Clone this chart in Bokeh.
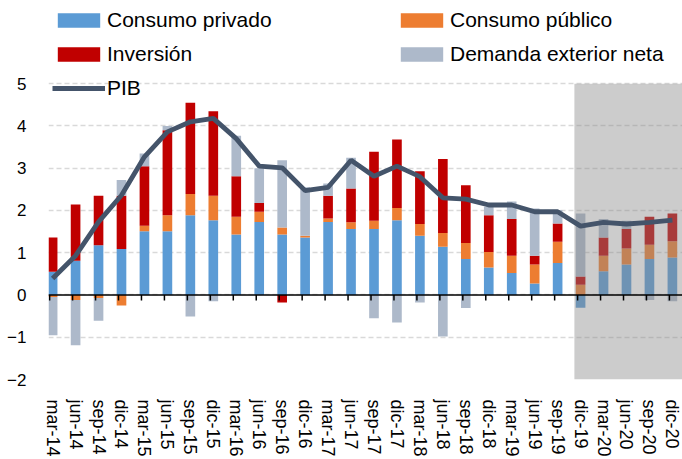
import numpy as np
from bokeh.plotting import figure
from bokeh.models import (Range1d, FixedTicker, Span, Legend, LegendItem)
from bokeh.embed import file_html
from bokeh.resources import INLINE

labels = ["mar-14", "jun-14", "sep-14", "dic-14", "mar-15", "jun-15", "sep-15", "dic-15",
          "mar-16", "jun-16", "sep-16", "dic-16", "mar-17", "jun-17", "sep-17", "dic-17",
          "mar-18", "jun-18", "sep-18", "dic-18", "mar-19", "jun-19", "sep-19", "dic-19",
          "mar-20", "jun-20", "sep-20", "dic-20"]

consumo_privado = [0.55, 0.81, 1.18, 1.09, 1.51, 1.51, 1.89, 1.77, 1.43, 1.73, 1.43, 1.36,
                   1.73, 1.56, 1.56, 1.77, 1.40, 1.14, 0.85, 0.65, 0.52, 0.27, 0.76, -0.30,
                   0.56, 0.72, 0.85, 0.89]
consumo_publico = [-0.05, -0.12, -0.07, -0.25, 0.13, 0.38, 0.50, 0.58, 0.42, 0.24, 0.17, 0.04,
                   0.08, 0.16, 0.20, 0.29, 0.28, 0.33, 0.38, 0.37, 0.41, 0.45, 0.50, 0.24,
                   0.37, 0.38, 0.34, 0.38]
inversion = [0.81, 1.33, 1.17, 1.26, 1.41, 2.01, 2.16, 2.00, 0.96, 0.21, -0.18, 0.00,
             0.54, 0.80, 1.63, 1.62, 1.25, 1.75, 1.37, 0.87, 0.87, 0.21, 0.43, 0.20,
             0.43, 0.46, 0.66, 0.66]
demanda_exterior = [-0.90, -1.07, -0.54, 0.37, 0.30, 0.10, -0.51, -0.15, 0.96, 0.82, 1.59, 1.15,
                    0.29, 0.73, -0.55, -0.65, -0.18, -0.98, -0.31, 0.20, 0.41, 1.12, 0.32, 1.49,
                    0.44, 0.20, -0.12, -0.15]
pib = [0.39, 0.93, 1.73, 2.36, 3.27, 3.86, 4.10, 4.18, 3.70, 3.05, 3.01, 2.47,
       2.55, 3.19, 2.81, 3.05, 2.80, 2.30, 2.27, 2.13, 2.13, 1.97, 1.97, 1.63,
       1.72, 1.68, 1.72, 1.77]

y_ticks = [-2, -1, 0, 1, 2, 3, 4, 5]
forecast_start = "dic-19"

series = [
    ("Consumo privado", consumo_privado, "#5B9BD5"),
    ("Consumo público", consumo_publico, "#ED7D31"),
    ("Inversión", inversion, "#C00000"),
    ("Demanda exterior neta", demanda_exterior, "#ADB9CA"),
]

x = np.arange(len(labels))
n = len(labels)
y_min, y_max = y_ticks[0], y_ticks[-1]

p = figure(width=682, height=459, output_backend="svg", toolbar_location=None,
           x_range=Range1d(-0.18, n - 0.56), y_range=Range1d(y_min, 6.97),
           min_border_left=48, min_border_right=0, min_border_top=0, min_border_bottom=79)
p.outline_line_color = None
p.background_fill_color = "white"
p.border_fill_color = "white"

pos_base = np.zeros(n)
neg_base = np.zeros(n)
renderers = {}
for name, vals, color in series:
    v = np.array(vals, dtype=float)
    bottom = np.where(v >= 0, pos_base, neg_base)
    top = bottom + v
    pos_base = np.where(v >= 0, top, pos_base)
    neg_base = np.where(v < 0, top, neg_base)
    r = p.vbar(x=x, bottom=bottom, top=top, width=0.42, fill_color=color, line_color=None)
    renderers[name] = r

# forecast shading
fs = labels.index(forecast_start) - 0.27
p.quad(left=[fs], right=[n + 1], bottom=[y_min], top=[y_max],
       fill_color="#888888", fill_alpha=0.43, line_color=None)

# zero axis line and ticks
p.add_layout(Span(location=0, dimension="width", line_color="black", line_width=1.5))
p.segment(x0=x - 0.13, x1=x - 0.13, y0=np.zeros(n), y1=np.full(n, -0.13),
          line_color="black", line_width=1.5)

line_r = p.line(x, pib, line_width=4.8, line_color="#44546A")

# axes
p.xaxis.ticker = FixedTicker(ticks=list(x))
p.xaxis.major_label_overrides = {int(i): lab for i, lab in zip(x, labels)}
p.xaxis.major_label_orientation = "vertical"
p.xaxis.axis_line_color = None
p.xaxis.major_tick_line_color = None
p.xaxis.minor_tick_line_color = None
p.xaxis.major_label_standoff = 14
p.xaxis.major_label_text_font = "Liberation Sans"
p.xaxis.major_label_text_font_size = "18px"
p.xaxis.major_label_text_color = "black"

p.yaxis.ticker = FixedTicker(ticks=y_ticks)
p.yaxis.axis_line_color = None
p.yaxis.major_tick_line_color = None
p.yaxis.minor_tick_line_color = None
p.yaxis.major_label_standoff = 16
p.yaxis.major_label_text_font = "Liberation Sans"
p.yaxis.major_label_text_font_size = "17px"
p.yaxis.major_label_text_color = "black"

p.xgrid.grid_line_color = None
p.ygrid.ticker = FixedTicker(ticks=y_ticks)
p.ygrid.grid_line_color = "#D9D9D9"
p.ygrid.grid_line_dash = "5 3"
p.ygrid.grid_line_width = 1.3

def make_legend(items, loc):
    lg = Legend(items=items, location=loc, orientation="vertical",
                label_text_font="Liberation Sans", label_text_font_size="21px",
                label_text_color="black", glyph_width=53, glyph_height=18,
                label_height=24, label_standoff=2, spacing=10, padding=0, margin=0,
                border_line_color=None, background_fill_alpha=0)
    return lg

left_items = [LegendItem(label="Consumo privado", renderers=[renderers["Consumo privado"]]),
              LegendItem(label="Inversión", renderers=[renderers["Inversión"]]),
              LegendItem(label="PIB", renderers=[line_r])]
right_items = [LegendItem(label="Consumo público", renderers=[renderers["Consumo público"]]),
               LegendItem(label="Demanda exterior neta", renderers=[renderers["Demanda exterior neta"]])]
p.add_layout(make_legend(left_items, (4, 279)))
p.add_layout(make_legend(right_items, (347, 313)))

open("out.html", "w").write(file_html(p, INLINE))
